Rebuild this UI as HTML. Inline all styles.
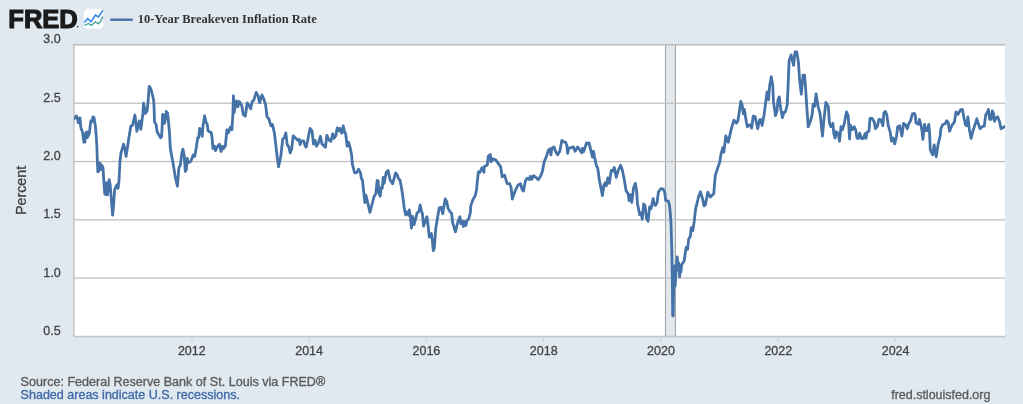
<!DOCTYPE html>
<html><head><meta charset="utf-8"><title>10-Year Breakeven Inflation Rate</title>
<style>
html,body{margin:0;padding:0;}
body{width:1023px;height:404px;overflow:hidden;background:#e1e9f0;font-family:"Liberation Sans",Arial,sans-serif;}
svg{display:block;will-change:transform}
text{font-family:"Liberation Sans",Arial,sans-serif;}
</style></head><body>
<svg width="1023" height="404" viewBox="0 0 1023 404">
<rect x="0" y="0" width="1023" height="404" fill="#e1e9f0"/>
<!-- plot -->
<rect x="74" y="45" width="931" height="291" fill="#ffffff"/>
<!-- recession -->
<rect x="665.5" y="45" width="10" height="291" fill="#e3e8ec"/>
<rect x="664.95" y="45" width="1.1" height="291" fill="#a3a6a8"/>
<rect x="674.9" y="45" width="1.1" height="291" fill="#a3a6a8"/>
<!-- gridlines -->
<g fill="#c1c1c1">
<rect x="74" y="102.6" width="931" height="1.3"/>
<rect x="74" y="160.9" width="931" height="1.3"/>
<rect x="74" y="219.2" width="931" height="1.3"/>
<rect x="74" y="277.4" width="931" height="1.3"/>
</g>
<rect x="73.4" y="43.9" width="931.7" height="1.7" fill="#bfbfbf"/>
<rect x="73.3" y="44" width="1.3" height="293" fill="#bebebe"/>
<rect x="73.4" y="335.8" width="931.8" height="1.1" fill="#bdbfc6"/>
<rect x="73.4" y="336.9" width="931.8" height="1" fill="#d3dcea"/>
<!-- ticks -->
<g fill="#c9d2e0">
<rect x="191.5" y="337" width="1" height="5"/><rect x="308.7" y="337" width="1" height="5"/><rect x="425.9" y="337" width="1" height="5"/><rect x="543.1" y="337" width="1" height="5"/><rect x="660.3" y="337" width="1" height="5"/><rect x="777.5" y="337" width="1" height="5"/><rect x="894.7" y="337" width="1" height="5"/>
</g>
<!-- series -->
<clipPath id="pc"><rect x="74" y="45" width="931" height="291"/></clipPath>
<polyline clip-path="url(#pc)" fill="none" stroke="#4572a7" stroke-width="2.8" stroke-linejoin="round" stroke-linecap="round" points="74.5,118.4 76.5,115.9 77.5,118.5 78.4,122.9 79.9,117.9 80.9,127.8 82.4,131.8 83.9,142.2 84.9,142.2 85.4,133.7 86.9,131.8 87.3,137.7 89.3,133.7 90.8,120.9 91.8,121.9 93,116.9 94,117.4 95.5,127 96.5,140 97,150 97.3,160 97.8,171.8 98.8,171 99.5,162.9 100.5,164 101.2,169.3 102.2,165.8 103,167.8 103.6,177.7 104.3,188 104.8,194 105.8,194.5 106.7,182.7 107.4,194.9 108.2,190 109.1,179.7 110.1,184 111,195 112.6,215.2 113.6,205 114.6,190 115.6,187.5 117,184.8 118,188.4 119,180.7 120,161 121,153 122.5,148 123.5,144.1 124.8,148 126,156.4 127.4,148 129,137 130.9,125.8 132.4,125.8 134.9,115 136,124 136.9,131.3 139.3,120.9 140.8,129.3 141.5,125 142.8,113.9 143.6,103.2 144.5,108 145.3,113.6 147.2,110.7 148.2,100 149.2,86.4 150.4,88 151.7,91.8 153.7,100.8 154.2,110 154.5,121.9 156.2,124.8 157.1,131.8 159,135 160.6,137.7 161.6,136.7 162.2,125 162.6,114.5 163.6,115 164.6,123.3 165.6,118 166.3,111.5 167.5,113 168.5,122 169.5,132.8 170.3,148 171.5,155 173,162.9 175.4,177.7 177.4,186.1 178.9,167.8 180.4,164.9 181.9,153 182.9,149.1 184.3,156 185.3,171.3 186.3,170 187.3,158.4 188.3,162.9 190.8,161.4 193.2,155 194.7,156.4 196.2,148 197.7,137.7 198.7,137.7 199.7,128.3 201.2,131 202.2,136.3 203.1,124.9 204.6,116 206.1,122.4 207.1,124 208.1,130.8 209.6,131.8 211.1,132.3 212.1,137.7 213,148.6 214.5,146.2 215.5,150.6 217,147.1 219.5,144.2 221,151.5 222.5,146.2 223.4,148.6 225.4,145.7 226.9,129.8 228.4,132.8 230.4,127.3 231.9,129.8 232.9,114 233.4,95.9 234.1,112.7 236.4,100.8 237.8,106.8 239.3,101.5 241.8,105.8 243.3,114.7 245.3,116.2 247.2,102.8 248.7,105.3 250.7,108.7 252.2,101.3 253.7,100.3 256.2,92.4 258.1,95.9 259.6,102.8 261.9,94.9 264.1,99.8 265.6,104.8 267,116.7 269,119.1 270.9,125.9 272.4,124.4 274.4,132.9 275.9,145.7 277.3,158 278.6,166.8 280.8,156 282.8,138.8 284.3,137.8 285.8,132.9 287.2,144.7 288.7,146.7 290.2,153 291.7,148.7 293.2,135.8 295.2,137.8 297.6,140.3 299.1,139.3 300.1,144.7 301.1,140.8 303.6,140.8 305.1,145.7 306.1,147.2 307.5,141.3 310,128.4 312,130.9 313.5,144.2 315,140.3 316.5,146.2 318.4,142.8 320.4,136.3 321.9,143.7 325.4,147.2 326.9,135.3 328.8,139.8 330.8,141.3 332.8,133.8 333.8,138.3 335.8,135.8 337.2,127.9 338.7,130.9 339.7,128.4 341.7,133.3 343.2,125.9 344.7,132.4 345.7,133.8 347.1,146.2 348.6,142.3 350.1,147.5 351.6,155 352.3,163.9 354.6,172.8 357,172.3 358.5,169.3 360.4,172.4 361.4,178.4 362.4,179.9 364.9,202.6 365.9,195.2 367.3,200.7 369.9,212.4 372.4,203 373.9,197 375.8,193.7 377.2,180.4 378.2,181 378.7,192.2 380.2,196.2 381.2,187.3 382.2,188.3 383.2,177.4 384.2,183.3 386.2,172.4 388.1,170.5 390.1,179.9 392.6,183.8 395.6,172.9 397,174.4 398.5,178.4 400,179.9 401.5,187.8 403,198 404.1,206.9 405.6,214.8 407,211.9 408.5,215.3 409.3,209.9 410.5,217.8 411.5,228 412.5,216.3 414,224.7 415.5,219.3 417,213.3 418.9,211.4 420.2,205 421.4,210.9 422.4,213.8 423.6,226 425.4,220.8 426.9,216.8 427.8,222.8 429.3,237 431.3,233.5 432.3,239.8 433.3,250.7 434.3,248 435.8,228 437.2,219.8 439.2,207.9 441.2,207.4 442.7,213.8 445.2,199 446.7,201.5 448.1,208.4 450.1,211.9 451.6,213.3 452.6,222.3 455.4,231.8 457.7,222.5 459.9,216.8 460.9,223.7 462.4,221.2 463.4,226.5 464.4,221.7 465.9,225.5 466.9,220.7 468.8,218.7 470.3,212.8 470.8,205.9 472.8,199.9 475.3,195.5 476.5,190 477.4,180.7 478.4,171.8 479.9,172.3 481.9,167.8 483.9,172.3 484.4,166.4 487.3,164.9 488.3,156 490.3,154.5 491,161.9 492.8,158.9 495.7,159.9 498.2,163.4 500.7,166.9 502.2,176.8 504.7,175.3 507.1,183.7 509.6,183.7 511.1,187.6 512.3,199 514.5,192.5 515.5,190.1 518,185.2 520.5,183.7 522,189.1 523.5,191.1 525.4,180.7 527.4,178.2 529.4,179.7 530.4,176.3 531.9,179.2 533.4,175.8 535.3,176.8 538.3,179.7 540.8,175.8 542.3,171.8 544.2,161.8 546.5,156.2 548.5,150 549.9,148.8 550.9,154.8 551.9,148.3 553.9,146.9 555.8,151.8 557.6,154.8 559.8,151.3 561.8,140.4 563.8,141.9 565.7,142.4 566.7,144.9 567.7,153.3 568.7,147.8 571.2,147.8 573.2,146.9 575.1,151.3 577.6,146.9 579.6,149.8 581.6,152.8 582.4,148.3 583.6,151.8 586.5,142.9 587.7,143.9 589,142.9 591,150.8 592.5,157.2 593.5,151.3 594.5,156.8 596.4,165.7 597.7,168 599.4,180.3 602.4,195.7 603.9,185.3 605.3,182.8 606.3,185.8 607.8,177.8 609.3,183.3 611.3,170.4 613,171 614.3,167.5 616.2,177.3 618.2,170.5 620.6,165.3 622.3,170 624.2,179.3 626.1,190.7 628.1,193.7 629.1,200.5 630.1,194.7 631.8,202.5 633.6,187.7 635.3,183.3 636.5,189.7 637.5,203.9 639.7,214.8 641.2,212.8 642.2,219.3 643.7,203.9 645.1,205.9 646.6,218.8 648.1,221.2 649.6,206.9 651.1,208.4 653.2,198.5 654.3,204.4 655.5,205.4 657,202.9 658.4,192 660.8,188.7 663.3,189.2 664.8,192.7 665.7,200.5 668.3,201 669.4,204.9 670.2,211.8 671,223.7 671.8,250 672.4,285 672.7,315.8 673.2,315.8 673.6,290 674.2,266 675.2,286 676.2,268 677.2,256.8 678.2,270 678.8,263 679.6,277 680.3,266 680.9,272 681.7,264.7 684.2,260.7 686.1,247.3 687.6,249.3 688.6,239.4 690.4,236 691.2,227.7 692.7,230.7 694.2,221.7 695.6,208.9 697.1,202.9 698.5,197 700.4,191.7 702.6,199 704.1,205.9 705.3,205 706.5,199 707.8,192.2 710.3,197.1 712.3,195.1 713.8,193.7 715.2,175.8 717.7,167.9 719.8,162 720.9,154.7 722.7,147.7 723.9,152.2 725.8,135.9 728.3,142.3 729.3,137.8 731.3,128.9 733.9,120.2 736.4,123.2 737.9,120.7 739.4,111.3 740.8,101.4 742.3,105.8 743.3,113.8 744.3,109.3 746.3,121.7 747.3,126.6 750.2,124.7 751.7,128.1 753.2,116.2 755.2,116.7 757.7,128.8 759.7,119.7 761,119.7 762.1,125.6 764.1,114.8 765.6,102.9 767.1,92 768.6,99.9 769.6,86 771.3,76.7 772.8,86 773.5,101.9 775.5,115.7 777,110.8 778,99.9 779.3,96.9 780.4,106.8 782.4,117.7 783.9,112.3 785.4,112 787.2,104.9 788,88 789.1,60.9 791.1,54.9 793.6,65.3 795,51.9 796.8,51.9 798.5,62.8 799.5,78.7 801.3,94 803,75.2 804.5,75.2 805.6,88 806.4,100.9 808.2,126.8 810.6,120.7 812.1,114.8 813.1,104.4 814.6,106.3 816.1,94 818.1,106.8 820,113 822.5,136 823.9,119.8 825.9,102.5 828.4,106.9 829.4,122.8 830.9,126.7 832.9,123.3 833.8,133.7 835.1,138.1 836.3,131.7 838.3,133.7 839.5,141.4 841,126.7 842.3,129.7 844.2,123.8 846.5,111.9 848.2,115.8 849.6,139 850.2,124.8 852.2,129.7 854.1,126.7 855.6,129.7 857.1,138.3 858.6,138.3 859.6,133.2 861.6,138.6 863.6,138.3 865,133.7 866,138.3 867,132.2 869,131.2 870,118.3 872,118.3 874.4,122.3 875.4,128.7 877.4,126.2 878.9,119.3 880.9,119.8 882.9,125.7 883.8,112.9 885.3,111.4 886.8,114.9 888.3,125.7 890.3,132.7 891.5,141 893.2,138 894.7,143.9 896.4,137 897.7,126.7 899.7,125.7 901.9,136 903.6,123.3 905.6,124.8 907.3,128.7 908.5,124.3 910.5,120.8 912.4,113.9 914.4,113.4 915.4,115.8 915.9,122.8 918.4,124.3 919.4,119.3 920.9,124.8 921.8,129.7 922.9,139.4 924.6,124.3 925.8,130.7 927.3,130.7 928.8,124.3 929.6,133.7 930.3,149.8 932.7,154.8 934.2,144.9 936.2,156.8 938.2,143.9 940.2,136 940.9,128.7 942.6,124.8 945.1,123.8 946.6,120.8 948.1,122.3 949.6,131.2 952,125.2 954.5,121.8 956,111.9 958,114.4 960.5,109.9 962.4,109.4 963.4,114.9 965.4,124.8 966.9,125.7 967.9,116.8 969.4,129.7 971.1,138.4 973.3,129.7 975.3,123.8 976.8,118.8 978.3,123.8 980.1,128.7 982.2,126.7 984.2,126.2 985.7,114.9 987.2,112.9 988.4,109.4 989.7,119.3 991.2,119.3 992.3,110.9 993.6,113.9 994.6,121.3 995.6,118.3 997.6,116.8 999.6,121.8 1001,128.7 1003.5,127.2 1005,126.7"/>
<!-- y labels -->
<g font-size="12.5" fill="#444444" stroke="#444444" stroke-width="0.3" text-anchor="end">
<text x="60.6" y="43.3">3.0</text>
<text x="60.6" y="101.6">2.5</text>
<text x="60.6" y="159.9">2.0</text>
<text x="60.6" y="218.2">1.5</text>
<text x="60.6" y="276.5">1.0</text>
<text x="60.6" y="334.9">0.5</text>
</g>
<text transform="translate(25.8,215) rotate(-90)" font-size="14" fill="#444444" stroke="#444444" stroke-width="0.3" textLength="49.2" lengthAdjust="spacingAndGlyphs">Percent</text>
<!-- x labels -->
<g font-size="12.5" fill="#444444" stroke="#444444" stroke-width="0.3" text-anchor="middle">
<text x="191.8" y="354.8">2012</text><text x="309.1" y="354.8">2014</text><text x="426.4" y="354.8">2016</text><text x="543.7" y="354.8">2018</text><text x="661" y="354.8">2020</text><text x="778.3" y="354.8">2022</text><text x="895.6" y="354.8">2024</text>
</g>
<!-- header -->
<text x="8.3" y="28" font-size="26.6" font-weight="bold" fill="#1a1a1a" stroke="#1a1a1a" stroke-width="1.2" stroke-linejoin="miter" textLength="69.5" lengthAdjust="spacingAndGlyphs">FRED</text>
<rect x="76.9" y="25.9" width="1.3" height="1.5" fill="#333"/>
<rect x="83.9" y="8.8" width="19.4" height="20" rx="1.6" fill="#fdfeff"/>
<g fill="#8f959c"><rect x="84.3" y="9.1" width="0.9" height="0.7"/><rect x="102.2" y="9.2" width="0.8" height="0.7"/><rect x="84.6" y="27.9" width="0.9" height="0.7"/><rect x="102.1" y="27.6" width="0.9" height="0.8"/></g>
<polyline fill="none" stroke="#2f81ee" stroke-width="1.5" stroke-linejoin="miter" stroke-linecap="butt" points="84.3,22.6 87.7,18.5 91,21.8 95.4,15.1 98.4,17 102.9,10.3"/>
<polyline fill="none" stroke="#3c9f94" stroke-width="1.3" stroke-linejoin="miter" stroke-linecap="butt" points="84.3,25.5 88.4,23.4 91.4,25.5 95.4,21.8 98,23.7 100.3,21.8 102.9,16.6"/>
<rect x="110.2" y="18.5" width="22.6" height="2.4" fill="#4572a7"/>
<text x="137.7" y="23" font-size="12.5" font-weight="bold" fill="#333333" style="font-family:'Liberation Serif','Times New Roman',serif">10-Year Breakeven Inflation Rate</text>
<!-- footer -->
<text x="20.6" y="385.7" font-size="12.5" fill="#5c5c5c" stroke="#5c5c5c" stroke-width="0.35" textLength="304.6" lengthAdjust="spacingAndGlyphs">Source: Federal Reserve Bank of St. Louis via FRED®</text>
<text x="20.6" y="398.9" font-size="12.5" fill="#3f69a8" stroke="#3f69a8" stroke-width="0.35" textLength="219.4" lengthAdjust="spacingAndGlyphs">Shaded areas indicate U.S. recessions.</text>
<text x="891.2" y="399.2" font-size="12.5" fill="#5c5c5c" stroke="#5c5c5c" stroke-width="0.35" textLength="99.2" lengthAdjust="spacingAndGlyphs">fred.stlouisfed.org</text>
</svg>
</body></html>
